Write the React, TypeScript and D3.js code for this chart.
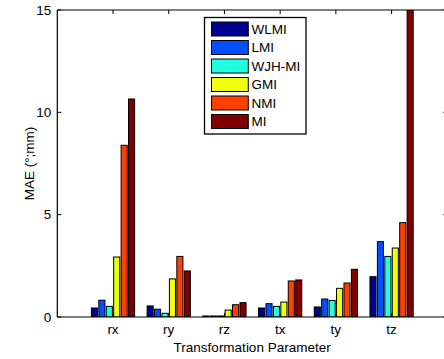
import { useMemo } from "react";
import * as d3 from "d3";

// Data
const categories = ["rx", "ry", "rz", "tx", "ty", "tz"];
const seriesNames = ["WLMI", "LMI", "WJH-MI", "GMI", "NMI", "MI"];
const seriesColors = ["#00008F", "#0050FF", "#20FFDF", "#EFFF10", "#FF4000", "#800000"];

const wlmi = [0.44, 0.54, 0.05, 0.44, 0.49, 1.97];
const lmi = [0.82, 0.38, 0.05, 0.65, 0.88, 3.68];
const wjhmi = [0.52, 0.18, 0.05, 0.52, 0.81, 2.96];
const gmi = [2.93, 1.86, 0.34, 0.73, 1.4, 3.37];
const nmi = [8.39, 2.96, 0.6, 1.76, 1.66, 4.61];
const mi = [10.65, 2.25, 0.7, 1.81, 2.33, 18.0];

const seriesValues = [wlmi, lmi, wjhmi, gmi, nmi, mi];
const yTicks = [0, 5, 10, 15];

export default function App() {
    const width = 444;
    const height = 359;
    const left = 57.3;
    const top = 10;
    const bottom = 317;
    const right = 447.3; // axis box runs past the picture edge
    const font = "'Liberation Sans', Arial, Helvetica, sans-serif";
    const fs = 13.5;

    const x = useMemo(() => d3.scaleLinear().domain([0, 7]).range([left, right]), []);
    const y = useMemo(() => d3.scaleLinear().domain([0, 15]).range([bottom, top]), []);
    // offsets of each series inside a group, in data units
    const inner = useMemo(
        () => d3.scaleBand<string>().domain(seriesNames).range([-0.4, 0.4]).paddingInner(0.18).paddingOuter(0.09),
        []
    );

    const tickLen = 4;

    return (
        <svg
            width={width}
            height={height}
            viewBox={`0 0 ${width} ${height}`}
            style={{ position: "absolute", left: 0, top: 0, background: "#fff" }}
        >
            <defs>
                <clipPath id="plot-clip">
                    <rect x={left} y={top} width={right - left} height={bottom - top} />
                </clipPath>
            </defs>
            <rect x={0} y={0} width={width} height={height} fill="#fff" />

            {/* Bars */}
            <g clipPath="url(#plot-clip)">
                {categories.map((c, ci) =>
                    seriesNames.map((s, si) => {
                        const v = seriesValues[si][ci];
                        const x0 = x(ci + 1 + (inner(s) ?? 0));
                        const x1 = x(ci + 1 + (inner(s) ?? 0) + inner.bandwidth());
                        return (
                            <rect
                                key={`b-${c}-${s}`}
                                x={x0}
                                y={y(v)}
                                width={x1 - x0}
                                height={y(0) - y(v)}
                                fill={seriesColors[si]}
                                stroke="#000"
                                strokeWidth={1}
                            />
                        );
                    })
                )}
            </g>

            {/* Axis box */}
            <g stroke="#000" strokeWidth={1.2} fill="none">
                <line x1={left} x2={right} y1={top} y2={top} />
                <line x1={left} x2={right} y1={bottom} y2={bottom} />
                <line x1={left} x2={left} y1={top} y2={bottom} />
                <line x1={right} x2={right} y1={top} y2={bottom} />
            </g>

            {/* Y ticks (inward, both sides) */}
            <g stroke="#000" strokeWidth={1}>
                {yTicks.map((t) => (
                    <g key={`yt-${t}`}>
                        <line x1={left} x2={left + tickLen} y1={y(t)} y2={y(t)} />
                        <line x1={right} x2={right - tickLen} y1={y(t)} y2={y(t)} />
                    </g>
                ))}
                {categories.map((c, i) => (
                    <g key={`xt-${c}`}>
                        <line x1={x(i + 1)} x2={x(i + 1)} y1={top} y2={top + tickLen} />
                        <line x1={x(i + 1)} x2={x(i + 1)} y1={bottom} y2={bottom - tickLen} />
                    </g>
                ))}
            </g>

            {/* Y tick labels */}
            <g fontFamily={font} fontSize={fs} fill="#000">
                {yTicks.map((t) => (
                    <text key={`yl-${t}`} x={left - 6} y={y(t)} dy="0.35em" textAnchor="end">
                        {t}
                    </text>
                ))}
                {categories.map((c, i) => (
                    <text key={`xl-${c}`} x={x(i + 1)} y={334} textAnchor="middle">
                        {c}
                    </text>
                ))}
                <text x={(left + 391) / 2 + 28} y={352} textAnchor="middle">
                    Transformation Parameter
                </text>
                <text transform={`translate(34, ${(top + bottom) / 2}) rotate(-90)`} textAnchor="middle">
                    MAE (°;mm)
                </text>
            </g>

            {/* Legend */}
            <g>
                <rect x={204.5} y={17.5} width={101.5} height={116.5} fill="#fff" stroke="#000" strokeWidth={1.3} />
                {seriesNames.map((s, i) => {
                    const cy = 29 + i * 18.5;
                    return (
                        <g key={`lg-${s}`}>
                            <rect x={211.5} y={cy - 7} width={36.8} height={14} fill={seriesColors[i]} stroke="#000" strokeWidth={1} />
                            <text x={251.5} y={cy} dy="0.36em" fontFamily={font} fontSize={fs} fill="#000">
                                {s}
                            </text>
                        </g>
                    );
                })}
            </g>
        </svg>
    );
}
